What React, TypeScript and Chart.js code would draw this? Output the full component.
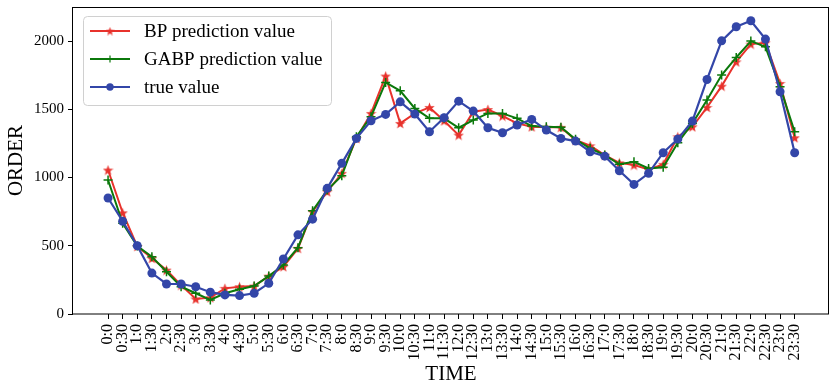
import React, { useEffect, useRef } from 'react';
import { Chart, registerables } from 'chart.js';
Chart.register(...registerables);

const timeLabels = [
  '0:0', '0:30', '1:0', '1:30', '2:0', '2:30', '3:0', '3:30', '4:0', '4:30', '5:0', '5:30',
  '6:0', '6:30', '7:0', '7:30', '8:0', '8:30', '9:0', '9:30', '10:0', '10:30', '11:0', '11:30',
  '12:0', '12:30', '13:0', '13:30', '14:0', '14:30', '15:0', '15:30', '16:0', '16:30', '17:0', '17:30',
  '18:0', '18:30', '19:0', '19:30', '20:0', '20:30', '21:0', '21:30', '22:0', '22:30', '23:0', '23:30',
];

const bpValues = [
  1055, 742, 495, 408, 322, 212, 110, 120, 188, 200, 205, 278,
  347, 481, 750, 896, 1031, 1287, 1470, 1744, 1397, 1470, 1514, 1416,
  1311, 1482, 1499, 1451, 1397, 1372, 1368, 1368, 1275, 1233, 1165, 1108,
  1092, 1060, 1097, 1299, 1372, 1514, 1670, 1848, 1978, 1988, 1690, 1292,
];

const gabpValues = [
  982, 665, 498, 420, 310, 200, 152, 103, 152, 181, 205, 278,
  359, 486, 757, 908, 1013, 1299, 1446, 1697, 1636, 1507, 1434, 1434,
  1365, 1421, 1470, 1470, 1434, 1377, 1372, 1368, 1280, 1214, 1165, 1097,
  1116, 1067, 1075, 1255, 1397, 1568, 1751, 1880, 2000, 1958, 1665, 1336,
];

const trueValues = [
  850, 680, 500, 300, 220, 220, 200, 160, 140, 135, 152, 225,
  403, 580, 695, 921, 1104, 1287, 1416, 1463, 1555, 1465, 1336, 1438,
  1560, 1487, 1365, 1328, 1385, 1426, 1348, 1287, 1267, 1189, 1157, 1050,
  950, 1031, 1182, 1282, 1414, 1719, 2002, 2105, 2149, 2015, 1629, 1182,
];

const yTicks = [0, 500, 1000, 1500, 2000];

const RED = '#e8322c';
const GREEN = '#0b780b';
const BLUE = '#3346a8';
const FONT = "'Liberation Serif', 'Times New Roman', serif";

function makeStar(color: string, size: number) {
  const c = document.createElement('canvas');
  c.width = size;
  c.height = size;
  const ctx = c.getContext('2d')!;
  const r = size / 2;
  const ri = r * 0.42;
  ctx.beginPath();
  for (let k = 0; k < 10; k++) {
    const ang = -Math.PI / 2 + (k * Math.PI) / 5;
    const rr = k % 2 === 0 ? r : ri;
    ctx.lineTo(r + rr * Math.cos(ang), r + 0.5 + rr * Math.sin(ang));
  }
  ctx.closePath();
  ctx.fillStyle = color;
  ctx.fill();
  return c;
}

export default function App() {
  const ref = useRef<HTMLCanvasElement | null>(null);

  useEffect(() => {
    if (!ref.current) return;
    const star = makeStar(RED, 11);
    const smallStar = makeStar(RED, 9);
    const toPts = (arr: number[]) => arr.map((v, i) => ({ x: i, y: v }));

    const boxPlugin = {
      id: 'boxPlugin',
      afterDatasetsDraw(chart: any) {
        const { ctx, chartArea } = chart;
        ctx.save();
        ctx.strokeStyle = '#000';
        ctx.lineWidth = 1;
        ctx.strokeRect(
          Math.round(chartArea.left) - 0.5,
          Math.round(chartArea.top) + 0.5,
          Math.round(chartArea.right - chartArea.left),
          Math.round(chartArea.bottom - chartArea.top) - 0.5
        );
        ctx.restore();
      },
      afterDraw(chart: any) {
        const { ctx } = chart;
        ctx.save();
        const bx = 83.5, by = 16.5, bw = 248, bh = 89, rad = 4;
        ctx.beginPath();
        ctx.moveTo(bx + rad, by);
        ctx.arcTo(bx + bw, by, bx + bw, by + bh, rad);
        ctx.arcTo(bx + bw, by + bh, bx, by + bh, rad);
        ctx.arcTo(bx, by + bh, bx, by, rad);
        ctx.arcTo(bx, by, bx + bw, by, rad);
        ctx.closePath();
        ctx.fillStyle = 'rgba(255,255,255,0.85)';
        ctx.fill();
        ctx.strokeStyle = '#d0d0d0';
        ctx.lineWidth = 1;
        ctx.stroke();

        const entries = [
          { label: 'BP prediction value', color: RED, kind: 'star' },
          { label: 'GABP prediction value', color: GREEN, kind: 'cross' },
          { label: 'true value', color: BLUE, kind: 'circle' },
        ];
        const rows = [31, 59, 87];
        entries.forEach((e, i) => {
          const y = rows[i];
          ctx.strokeStyle = e.color;
          ctx.lineWidth = 2;
          ctx.beginPath();
          ctx.moveTo(90, y);
          ctx.lineTo(130, y);
          ctx.stroke();
          if (e.kind === 'star') {
            ctx.drawImage(smallStar, 110 - 4.5, y - 4.5);
          } else if (e.kind === 'cross') {
            ctx.lineWidth = 1.2;
            ctx.beginPath();
            ctx.moveTo(110 - 3.5, y);
            ctx.lineTo(110 + 3.5, y);
            ctx.moveTo(110, y - 3.5);
            ctx.lineTo(110, y + 3.5);
            ctx.stroke();
          } else {
            ctx.fillStyle = e.color;
            ctx.beginPath();
            ctx.arc(110, y, 3.7, 0, Math.PI * 2);
            ctx.fill();
          }
          ctx.fillStyle = '#000';
          ctx.font = `19px ${FONT}`;
          ctx.textBaseline = 'middle';
          ctx.textAlign = 'left';
          ctx.fillText(e.label, 144, y + 1);
        });
        ctx.restore();
      },
    };

    const zeroPad = (s: any) => {
      s.paddingLeft = 0;
      s.paddingRight = 0;
      s.paddingTop = 0;
      s.paddingBottom = 0;
    };

    const chart = new Chart(ref.current, {
      type: 'line',
      data: {
        datasets: [
          {
            label: 'BP prediction value',
            data: toPts(bpValues),
            borderColor: RED,
            backgroundColor: RED,
            borderWidth: 2,
            pointStyle: star as any,
            pointRadius: 5,
            order: 2,
          },
          {
            label: 'GABP prediction value',
            data: toPts(gabpValues),
            borderColor: GREEN,
            backgroundColor: GREEN,
            borderWidth: 2,
            pointStyle: 'cross',
            pointRadius: 4.5,
            pointBorderWidth: 1.5,
            pointBorderColor: GREEN,
            order: 1,
          },
          {
            label: 'true value',
            data: toPts(trueValues),
            borderColor: BLUE,
            backgroundColor: BLUE,
            borderWidth: 2.2,
            pointStyle: 'circle',
            pointRadius: 4.5,
            pointBorderWidth: 0,
            order: 0,
          },
        ],
      },
      options: {
        responsive: false,
        animation: false,
        layout: { autoPadding: false, padding: { top: 7, right: 2, left: 0, bottom: 0 } },
        plugins: {
          legend: { display: false },
          tooltip: { enabled: false },
        },
        elements: { line: { tension: 0 } },
        scales: {
          x: {
            type: 'linear',
            min: -2.4,
            max: 49.35,
            afterFit: (s: any) => { s.height = 71; zeroPad(s); },
            afterBuildTicks: (s: any) => {
              s.ticks = timeLabels.map((_, i) => ({ value: i }));
            },
            ticks: {
              stepSize: 1,
              autoSkip: false,
              includeBounds: false,
              minRotation: 90,
              maxRotation: 90,
              padding: 5,
              color: '#000',
              font: { family: FONT, size: 16 },
              callback: (v: any) => timeLabels[v] ?? '',
            },
            grid: {
              display: true,
              drawOnChartArea: false,
              drawTicks: true,
              tickLength: 5,
              color: '#000',
            },
            border: { display: false },
            title: {
              display: true,
              text: 'TIME',
              color: '#000',
              font: { family: FONT, size: 21, lineHeight: 1 },
              padding: 0,
            },
          },
          y: {
            min: 0,
            max: 2250,
            afterFit: (s: any) => { s.width = 73; zeroPad(s); },
            afterBuildTicks: (s: any) => {
              s.ticks = yTicks.map((v) => ({ value: v }));
            },
            ticks: {
              stepSize: 500,
              includeBounds: false,
              padding: 4,
              color: '#000',
              font: { family: FONT, size: 15 },
              callback: (v: any) => String(v),
            },
            grid: {
              display: true,
              drawOnChartArea: false,
              drawTicks: true,
              tickLength: 5,
              color: '#000',
            },
            border: { display: false },
            title: {
              display: true,
              text: 'ORDER',
              color: '#000',
              font: { family: FONT, size: 21, lineHeight: 1 },
              padding: { top: 6, bottom: 0 },
            },
          },
        },
      },
      plugins: [boxPlugin],
    } as any);

    return () => chart.destroy();
  }, []);

  return (
    <div style={{ position: 'absolute', left: 0, top: 0, width: 831, height: 385, background: '#fff' }}>
      <canvas ref={ref} width={831} height={385} style={{ display: 'block' }} />
    </div>
  );
}
